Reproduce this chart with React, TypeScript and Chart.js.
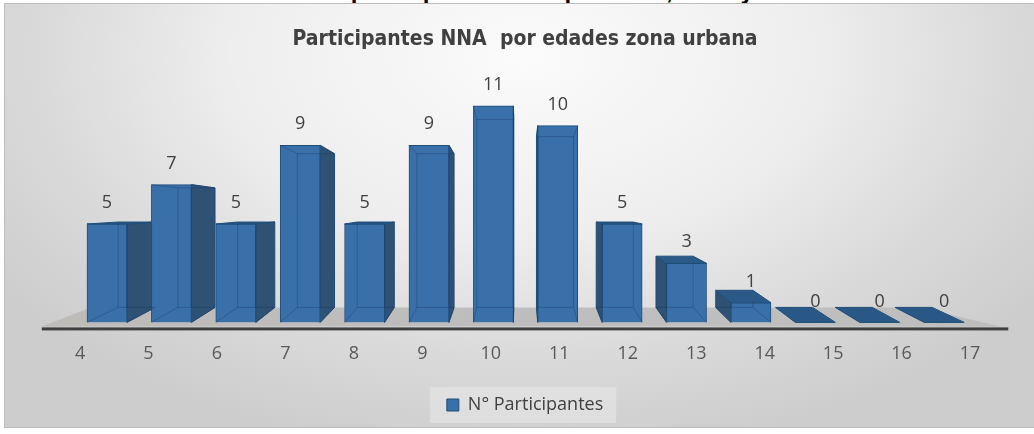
import React, { useEffect, useRef } from "react";
import { Chart, registerables } from "chart.js";

Chart.register(...registerables);

// ---- data ----
const ageLabels = ["4", "5", "6", "7", "8", "9", "10", "11", "12", "13", "14", "15", "16", "17"];
const participants = [5, 7, 5, 9, 5, 9, 11, 10, 5, 3, 1, 0, 0, 0];
const barSlots = [0, 1, 2, 3, 4, 5, 6, 7, 8, 9, 10, 11, 12, 13];
const chartTitle = "Participantes NNA  por edades zona urbana";
const seriesName = "N° Participantes";
const pageHeading = "Número de participantes NNA por edad, sexo y zona";

const FRONT = "#3A70AA";
const SIDE = "#2F5173";
const TOP = "#2B5A88";
const EDGE = "#1F4E79";
const LABEL_FONT = "'Open Sans', 'Noto Sans', sans-serif";

const depthPlugin = {
  id: "depth3d",
  beforeDraw(chart: any) {
    const lg = chart.legend;
    if (!lg || !lg.legendHitBoxes || !lg.legendHitBoxes.length) return;
    const hb = lg.legendHitBoxes[0];
    const ctx = chart.ctx;
    ctx.save();
    ctx.fillStyle = "rgba(255,255,255,0.28)";
    ctx.fillRect(hb.left - 17, hb.top - 9, hb.width + 30, hb.height + 18);
    ctx.restore();
  },
  beforeDatasetsDraw(chart: any) {
    const ctx = chart.ctx;
    const area = chart.chartArea;
    const xs = chart.scales.x;
    const ys = chart.scales.y;
    const vpX = xs.getPixelForValue(6.41);
    const vpY = ys.getPixelForValue(5.75);
    const KX = 0.072;
    const KY = 0.1326;
    const px = (x: number) => x + (vpX - x) * KX;
    const py = (y: number) => y + (vpY - y) * KY;
    const yb = ys.getPixelForValue(0);

    ctx.save();
    // floor
    const fl = area.left - 4;
    const fr = area.right + 4;
    const grad = ctx.createLinearGradient(fl, 0, fr, 0);
    grad.addColorStop(0, "rgba(185,182,178,0.75)");
    grad.addColorStop(0.5, "rgba(170,170,170,0.65)");
    grad.addColorStop(1, "rgba(175,175,175,0.55)");
    ctx.fillStyle = grad;
    ctx.beginPath();
    ctx.moveTo(fl, yb + 4);
    ctx.lineTo(fr - 8, yb + 4);
    ctx.lineTo(area.right - 85, py(yb));
    ctx.lineTo(area.left + 45, py(yb));
    ctx.closePath();
    ctx.fill();
    ctx.fillStyle = "#3F3F3F";
    ctx.fillRect(fl, yb + 5, fr - fl, 3);

    const meta = chart.getDatasetMeta(0);
    meta.data.forEach((el: any) => {
      const { x, y, base, width } = el.getProps(["x", "y", "base", "width"], true);
      const L = x - width / 2;
      const R = x + width / 2;
      const T = y;
      const B = base;
      const pT = py(T);
      const pB = py(B);
      ctx.strokeStyle = EDGE;
      ctx.lineWidth = 1;
      if (B - T > 0.5) {
        const ex = x < vpX ? R : L;
        ctx.fillStyle = SIDE;
        ctx.beginPath();
        ctx.moveTo(ex, T);
        ctx.lineTo(px(ex), pT);
        ctx.lineTo(px(ex), pB);
        ctx.lineTo(ex, B);
        ctx.closePath();
        ctx.fill();
        ctx.stroke();
      }
      if (pT < T || B - T <= 0.5) {
        ctx.fillStyle = B - T <= 0.5 ? "#2A5886" : TOP;
        ctx.beginPath();
        ctx.moveTo(L, T);
        ctx.lineTo(R, T);
        ctx.lineTo(px(R), pT);
        ctx.lineTo(px(L), pT);
        ctx.closePath();
        ctx.fill();
        ctx.stroke();
      }
    });
    ctx.restore();
  },
  afterDatasetsDraw(chart: any) {
    const ctx = chart.ctx;
    const xs = chart.scales.x;
    const ys = chart.scales.y;
    const vpX = xs.getPixelForValue(6.41);
    const vpY = ys.getPixelForValue(5.75);
    const KX = 0.072;
    const KY = 0.1326;
    const px = (x: number) => x + (vpX - x) * KX;
    const py = (y: number) => y + (vpY - y) * KY;
    const meta = chart.getDatasetMeta(0);
    const values = chart.data.datasets[0].data;
    ctx.save();
    meta.data.forEach((el: any, i: number) => {
      const { x, y, base, width } = el.getProps(["x", "y", "base", "width"], true);
      const L = x - width / 2;
      const R = x + width / 2;
      const T = y;
      const B = base;
      if (B - T > 0.5) {
        ctx.strokeStyle = "rgba(22,52,92,0.35)";
        ctx.lineWidth = 1;
        const bl = Math.max(L, Math.min(R, px(L)));
        const br = Math.max(L, Math.min(R, px(R)));
        ctx.beginPath();
        ctx.moveTo(bl, Math.max(T, py(T)));
        ctx.lineTo(bl, py(B));
        ctx.moveTo(br, Math.max(T, py(T)));
        ctx.lineTo(br, py(B));
        ctx.moveTo(L, B);
        ctx.lineTo(px(L), py(B));
        ctx.lineTo(px(R), py(B));
        ctx.lineTo(R, B);
        if (py(T) > T) {
          ctx.moveTo(L, T);
          ctx.lineTo(px(L), py(T));
          ctx.lineTo(px(R), py(T));
          ctx.lineTo(R, T);
        }
        ctx.stroke();
      }
      const v = values[i] as any;
      ctx.fillStyle = "#404040";
      ctx.font = `18px ${LABEL_FONT}`;
      ctx.textAlign = "center";
      ctx.textBaseline = "middle";
      ctx.fillText(String(v.y), x, T - 21);
    });
    ctx.restore();
  },
};

function ParticipantsChart() {
  const ref = useRef<HTMLCanvasElement | null>(null);
  useEffect(() => {
    if (!ref.current) return;
    const chart = new Chart(ref.current, {
      type: "bar",
      data: {
        datasets: [
          {
            label: seriesName,
            data: participants.map((v, i) => ({ x: barSlots[i], y: v })),
            backgroundColor: FRONT,
            borderColor: EDGE,
            borderWidth: 1,
            barThickness: 40,
          },
        ],
      },
      options: {
        animation: false,
        responsive: true,
        maintainAspectRatio: false,
        layout: { padding: { left: 45.8, right: 29.7, top: 0, bottom: 10 } },
        scales: {
          x: { type: "linear", min: -0.95, max: 13.934, offset: false, display: false },
          xl: {
            type: "category",
            axis: "x",
            position: "bottom",
            labels: ageLabels,
            offset: true,
            grid: { display: false, drawTicks: false },
            border: { display: false },
            ticks: {
              color: "#595959",
              padding: 21,
              font: { family: LABEL_FONT, size: 18 },
              maxRotation: 0,
              autoSkip: false,
            },
          },
          y: { min: 0, max: 12, display: false },
        },
        plugins: {
          title: {
            display: true,
            text: chartTitle,
            color: "#404040",
            font: { family: "'Liberation Sans Narrow', 'DejaVu Sans Condensed', 'Liberation Sans', sans-serif", size: 21, weight: "bold" },
            padding: { top: 27, bottom: 34 },
          },
          legend: {
            display: true,
            position: "bottom",
            labels: {
              boxWidth: 12,
              boxHeight: 12,
              color: "#404040",
              font: { family: LABEL_FONT, size: 18 },
              padding: 10,
              generateLabels: () => [
                {
                  text: seriesName,
                  fillStyle: "#3A70AA",
                  strokeStyle: "#1F4E79",
                  lineWidth: 1,
                  hidden: false,
                  datasetIndex: 0,
                  fontColor: "#404040",
                } as any,
              ],
            },
          },
          tooltip: { enabled: false },
        },
      },
      plugins: [depthPlugin],
    });
    return () => chart.destroy();
  }, []);
  return <canvas ref={ref} />;
}

export default function App() {
  return (
    <div style={{ position: "fixed", left: 0, top: 0, width: 1034, height: 434, background: "#ffffff", overflow: "hidden" }}>
      <div style={{ position: "absolute", left: 0, top: 0, width: 1034, height: 3, overflow: "hidden" }}>
        <div
          style={{
            position: "absolute",
            left: 0,
            top: -21,
            width: 1034,
            textAlign: "center",
            fontFamily: "'Liberation Sans', Arial, sans-serif",
            fontWeight: "bold",
            fontSize: 24,
            lineHeight: "24px",
            color: "#000",
            whiteSpace: "nowrap",
          }}
        >
          {pageHeading}
        </div>
      </div>
      <div
        style={{
          position: "absolute",
          left: 4,
          top: 3,
          width: 1040,
          height: 425,
          boxSizing: "border-box",
          border: "1px solid #BDBDBD",
          background:
            "radial-gradient(ellipse 62% 95% at 50% 12%, #fbfbfb 0%, #eeeeee 45%, #dadada 75%, #cdcdcd 100%)",
        }}
      />
      <div style={{ position: "absolute", left: 0, top: 0, width: 1034, height: 434 }}>
        <ParticipantsChart />
      </div>
    </div>
  );
}
